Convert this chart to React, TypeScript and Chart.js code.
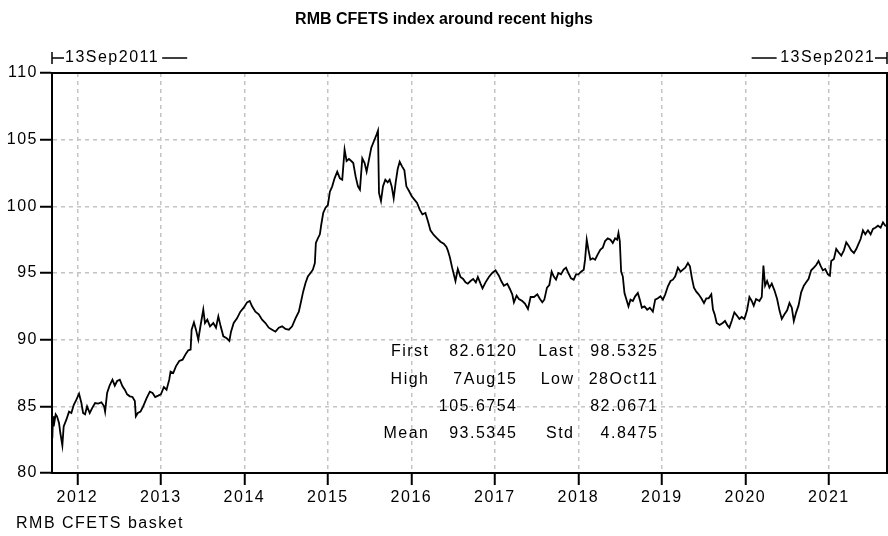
import React, { useEffect, useRef } from 'react';
import { Chart, registerables } from 'chart.js';

Chart.register(...registerables);

// ---- Data (decimal years, index values) ----
const dates: number[] = [
  2011.700, 2011.708, 2011.716, 2011.740, 2011.756, 2011.780, 2011.796, 2011.820, 2011.836, 2011.868,
  2011.900, 2011.928, 2011.956, 2011.988, 2012.020, 2012.048, 2012.068, 2012.092, 2012.116, 2012.148,
  2012.180, 2012.212, 2012.248, 2012.288, 2012.320, 2012.332, 2012.356, 2012.388, 2012.420, 2012.448,
  2012.476, 2012.508, 2012.540, 2012.568, 2012.596, 2012.628, 2012.660, 2012.688, 2012.700, 2012.724,
  2012.756, 2012.788, 2012.828, 2012.868, 2012.900, 2012.932, 2012.968, 2013.000, 2013.036, 2013.068,
  2013.100, 2013.116, 2013.148, 2013.180, 2013.220, 2013.260, 2013.300, 2013.328, 2013.356, 2013.368,
  2013.396, 2013.420, 2013.448, 2013.476, 2013.508, 2013.528, 2013.556, 2013.588, 2013.628, 2013.660,
  2013.688, 2013.716, 2013.748, 2013.788, 2013.820, 2013.840, 2013.872, 2013.912, 2013.952, 2013.992,
  2014.032, 2014.064, 2014.092, 2014.132, 2014.172, 2014.212, 2014.252, 2014.292, 2014.332, 2014.372,
  2014.412, 2014.452, 2014.492, 2014.532, 2014.572, 2014.612, 2014.652, 2014.680, 2014.704, 2014.732,
  2014.760, 2014.792, 2014.820, 2014.844, 2014.856, 2014.880, 2014.904, 2014.920, 2014.944, 2014.972,
  2015.000, 2015.024, 2015.052, 2015.080, 2015.112, 2015.144, 2015.172, 2015.200, 2015.224, 2015.252,
  2015.280, 2015.304, 2015.332, 2015.360, 2015.384, 2015.412, 2015.440, 2015.464, 2015.492, 2015.520,
  2015.552, 2015.584, 2015.600, 2015.612, 2015.636, 2015.660, 2015.688, 2015.716, 2015.740, 2015.764,
  2015.788, 2015.812, 2015.836, 2015.860, 2015.888, 2015.916, 2015.940, 2015.972, 2016.004, 2016.036,
  2016.068, 2016.100, 2016.132, 2016.168, 2016.200, 2016.228, 2016.268, 2016.308, 2016.348, 2016.388,
  2016.420, 2016.436, 2016.460, 2016.488, 2016.508, 2016.528, 2016.556, 2016.588, 2016.620, 2016.648,
  2016.676, 2016.708, 2016.740, 2016.772, 2016.796, 2016.828, 2016.852, 2016.888, 2016.928, 2016.968,
  2017.008, 2017.048, 2017.076, 2017.108, 2017.148, 2017.180, 2017.208, 2017.228, 2017.260, 2017.288,
  2017.328, 2017.360, 2017.396, 2017.428, 2017.468, 2017.508, 2017.540, 2017.568, 2017.592, 2017.624,
  2017.652, 2017.680, 2017.704, 2017.732, 2017.760, 2017.792, 2017.824, 2017.852, 2017.880, 2017.912,
  2017.944, 2017.972, 2018.000, 2018.032, 2018.064, 2018.080, 2018.100, 2018.120, 2018.144, 2018.172,
  2018.200, 2018.232, 2018.264, 2018.292, 2018.320, 2018.352, 2018.384, 2018.412, 2018.440, 2018.464,
  2018.480, 2018.496, 2018.512, 2018.532, 2018.552, 2018.576, 2018.600, 2018.624, 2018.652, 2018.680,
  2018.712, 2018.736, 2018.760, 2018.792, 2018.824, 2018.856, 2018.892, 2018.920, 2018.952, 2018.984,
  2019.012, 2019.040, 2019.072, 2019.104, 2019.132, 2019.160, 2019.192, 2019.224, 2019.252, 2019.280,
  2019.312, 2019.336, 2019.360, 2019.384, 2019.412, 2019.440, 2019.472, 2019.504, 2019.532, 2019.560,
  2019.592, 2019.612, 2019.632, 2019.656, 2019.692, 2019.728, 2019.756, 2019.788, 2019.808, 2019.836,
  2019.868, 2019.900, 2019.928, 2019.956, 2019.988, 2020.020, 2020.048, 2020.076, 2020.100, 2020.128,
  2020.168, 2020.196, 2020.216, 2020.236, 2020.260, 2020.288, 2020.316, 2020.348, 2020.380, 2020.408,
  2020.436, 2020.468, 2020.500, 2020.528, 2020.556, 2020.580, 2020.608, 2020.636, 2020.668, 2020.700,
  2020.728, 2020.756, 2020.788, 2020.820, 2020.848, 2020.876, 2020.900, 2020.928, 2020.956, 2020.988,
  2021.012, 2021.028, 2021.060, 2021.088, 2021.116, 2021.148, 2021.180, 2021.208, 2021.236, 2021.268,
  2021.300, 2021.328, 2021.356, 2021.380, 2021.408, 2021.436, 2021.468, 2021.500, 2021.528, 2021.556,
  2021.588, 2021.620, 2021.648, 2021.676, 2021.696,
];

const values: number[] = [
  82.61, 84.25, 83.5, 84.4, 84.25, 83.75, 83.0, 82.07, 83.5, 84.0,
  84.6, 84.5, 85.1, 85.5, 85.95, 85.25, 84.5, 84.4, 85.0, 84.5,
  84.9, 85.25, 85.2, 85.3, 85.0, 84.6, 86.0, 86.6, 87.0, 86.55,
  86.9, 87.0, 86.5, 86.25, 85.9, 85.75, 85.7, 85.4, 84.25, 84.5,
  84.6, 85.0, 85.6, 86.1, 86.0, 85.7, 85.8, 85.9, 86.45, 86.25,
  87.0, 87.6, 87.5, 88.0, 88.4, 88.5, 88.95, 89.2, 89.25, 90.75,
  91.3, 90.75, 90.0, 91.1, 92.25, 91.25, 91.5, 91.0, 91.25, 90.9,
  91.75, 91.0, 90.25, 90.1, 89.9, 90.6, 91.25, 91.6, 92.1, 92.4,
  92.8, 92.9, 92.5, 92.1, 91.9, 91.5, 91.25, 90.9, 90.75, 90.6,
  90.9, 91.0, 90.8, 90.75, 91.0, 91.6, 92.1, 92.9, 93.6, 94.25,
  94.75, 95.0, 95.25, 95.75, 97.25, 97.6, 97.9, 98.6, 99.5, 99.9,
  100.1, 101.1, 101.5, 102.1, 102.6, 102.1, 102.0, 104.25, 103.4, 103.55,
  103.4, 103.25, 102.25, 101.5, 101.25, 103.6, 103.25, 102.6, 103.5, 104.4,
  104.9, 105.4, 105.68, 101.0, 100.4, 101.5, 102.0, 101.8, 102.0, 101.5,
  100.6, 101.8, 102.8, 103.35, 103.0, 102.7, 101.5, 101.15, 100.75, 100.5,
  100.25, 99.75, 99.4, 99.5, 98.85, 98.2, 97.85, 97.6, 97.35, 97.2,
  96.95, 96.7, 96.2, 95.4, 94.9, 94.4, 95.3, 94.7, 94.55, 94.3,
  94.2, 94.4, 94.55, 94.3, 94.7, 94.2, 93.85, 94.3, 94.7, 95.0,
  95.2, 94.8, 94.4, 94.05, 94.2, 93.8, 93.4, 92.8, 93.3, 93.05,
  92.9, 92.7, 92.3, 93.2, 93.2, 93.4, 93.05, 92.8, 93.0, 93.9,
  94.1, 95.1, 94.75, 94.5, 95.0, 94.9, 95.25, 95.4, 95.0, 94.6,
  94.5, 94.9, 94.9, 95.1, 95.25, 96.0, 97.5, 96.75, 96.0, 96.1,
  96.0, 96.4, 96.75, 96.9, 97.4, 97.6, 97.5, 97.25, 97.6, 97.5,
  98.0, 97.4, 95.1, 94.75, 93.5, 93.0, 92.5, 93.0, 92.9, 93.25,
  93.5, 93.0, 92.4, 92.5, 92.25, 92.4, 92.1, 93.0, 93.1, 93.25,
  93.0, 93.4, 94.0, 94.4, 94.5, 94.75, 95.4, 95.1, 95.25, 95.4,
  95.75, 95.5, 94.6, 93.9, 93.6, 93.4, 93.1, 92.75, 93.1, 93.1,
  93.4, 92.25, 91.9, 91.25, 91.1, 91.25, 91.4, 91.05, 90.9, 91.4,
  92.05, 91.8, 91.55, 91.7, 91.55, 92.2, 93.2, 92.9, 92.55, 93.05,
  92.9, 93.2, 95.55, 94.05, 94.4, 93.9, 94.2, 93.7, 93.05, 92.2,
  91.55, 91.9, 92.2, 92.75, 92.4, 91.4, 92.05, 92.55, 93.55, 94.05,
  94.3, 94.55, 95.2, 95.4, 95.6, 95.9, 95.55, 95.2, 95.3, 94.9,
  94.8, 95.9, 96.05, 96.8, 96.55, 96.3, 96.7, 97.3, 97.05, 96.7,
  96.5, 96.8, 97.2, 97.55, 98.2, 97.9, 98.2, 97.9, 98.3, 98.4,
  98.55, 98.4, 98.8, 98.55, 98.53,
];

const xTickYears: number[] = [2012, 2013, 2014, 2015, 2016, 2017, 2018, 2019, 2020, 2021];
const yTickValues: number[] = [80, 85, 90, 95, 100, 105, 110];
const xMin = 2011.696;
const xMax = 2021.696;
const yMin = 80;
const yMax = 110;

const chartTitle = 'RMB CFETS index around recent highs';
const seriesName = 'RMB CFETS basket';
const startLabel = '13Sep2011';
const endLabel = '13Sep2021';

const statLabelsLeft: string[] = ['First', 'High', '', 'Mean'];
const statValuesLeft: string[] = ['82.6120', '7Aug15', '105.6754', '93.5345'];
const statLabelsRight: string[] = ['Last', 'Low', '', 'Std'];
const statValuesRight: string[] = ['98.5325', '28Oct11', '82.0671', '4.8475'];

const FONT = '"Liberation Sans", Arial, sans-serif';
const TEXT_COLOR = '#000000';

const overlayPlugin = {
  id: 'overlay',
  beforeDraw(chart: any) {
    const ctx = chart.ctx;
    ctx.fillStyle = '#ffffff';
    ctx.fillRect(0, 0, chart.width, chart.height);
    (ctx as any).letterSpacing = '1.5px';
  },
  afterDraw(chart: any) {
    const ctx = chart.ctx;
    const { left, right, top, bottom } = chart.chartArea;
    ctx.save();
    // plot frame
    ctx.strokeStyle = '#000';
    ctx.lineWidth = 2;
    ctx.strokeRect(left, top, right - left, bottom - top);

    // title
    (ctx as any).letterSpacing = '0px';
    ctx.fillStyle = '#000';
    ctx.font = `bold 16px ${FONT}`;
    ctx.textAlign = 'center';
    ctx.textBaseline = 'middle';
    ctx.fillText(chartTitle, 444, 20);

    // date range markers
    (ctx as any).letterSpacing = '1.5px';
    ctx.font = `16px ${FONT}`;
    ctx.fillStyle = TEXT_COLOR;
    ctx.strokeStyle = '#000';
    ctx.lineWidth = 1.5;
    const my = 58;
    const wS = ctx.measureText(startLabel).width;
    ctx.beginPath();
    ctx.moveTo(left, my - 6); ctx.lineTo(left, my + 6);
    ctx.moveTo(left, my); ctx.lineTo(left + 12, my);
    ctx.moveTo(left + 14 + wS + 2, my); ctx.lineTo(left + 14 + wS + 27, my);
    ctx.stroke();
    ctx.textAlign = 'left';
    ctx.fillText(startLabel, left + 13, my);

    const wE = ctx.measureText(endLabel).width;
    const ex = right - 13;
    ctx.beginPath();
    ctx.moveTo(right, my - 6); ctx.lineTo(right, my + 6);
    ctx.moveTo(right, my); ctx.lineTo(right - 12, my);
    ctx.moveTo(ex - wE - 2, my); ctx.lineTo(ex - wE - 27, my);
    ctx.stroke();
    ctx.textAlign = 'right';
    ctx.fillText(endLabel, ex + 1.5, my);

    // stats block
    const cols = [428, 516, 573, 657];
    const rows = [352, 379.5, 407, 434];
    ctx.textAlign = 'right';
    for (let i = 0; i < rows.length; i++) {
      const texts = [statLabelsLeft[i], statValuesLeft[i], statLabelsRight[i], statValuesRight[i]];
      texts.forEach((t, j) => {
        if (t) ctx.fillText(t, cols[j] + 1.5, rows[i]);
      });
    }

    // series name
    ctx.textAlign = 'left';
    ctx.fillText(seriesName, 16, 524);
    ctx.restore();
    (ctx as any).letterSpacing = '0px';
  },
};

export default function App() {
  const canvasRef = useRef<HTMLCanvasElement | null>(null);

  useEffect(() => {
    if (!canvasRef.current) return;
    const points = dates.map((d, i) => ({ x: d, y: values[i] }));
    const chart = new Chart(canvasRef.current, {
      type: 'line',
      data: {
        datasets: [
          {
            label: seriesName,
            data: points,
            borderColor: '#000',
            borderWidth: 1.8,
            pointRadius: 0,
            tension: 0,
            fill: false,
          },
        ],
      },
      options: {
        animation: false,
        responsive: false,
        devicePixelRatio: 1,
        layout: { padding: { top: 73, left: 0, right: 1, bottom: 0 } },
        plugins: {
          legend: { display: false },
          title: { display: false },
          tooltip: { enabled: false },
        },
        scales: {
          x: {
            type: 'linear',
            min: xMin,
            max: xMax,
            afterBuildTicks: (scale: any) => {
              scale.ticks = xTickYears.map((v) => ({ value: v }));
            },
            afterFit: (scale: any) => {
              scale.height = 63;
            },
            ticks: {
              autoSkip: false,
              maxRotation: 0,
              padding: 3,
              color: TEXT_COLOR,
              font: { family: FONT, size: 16 },
              callback: (v: any) => String(v),
            },
            grid: {
              color: '#c4c4c4',
              lineWidth: 1.5,
              tickLength: 12,
              tickColor: '#000',
              tickWidth: 2,
            },
            border: { color: '#000', width: 2, dash: [4, 4] },
          },
          y: {
            type: 'linear',
            min: yMin,
            max: yMax,
            afterBuildTicks: (scale: any) => {
              scale.ticks = yTickValues.map((v) => ({ value: v }));
            },
            afterFit: (scale: any) => {
              scale.width = 52;
            },
            ticks: {
              padding: 2,
              color: TEXT_COLOR,
              font: { family: FONT, size: 16 },
              callback: (v: any) => String(v),
            },
            grid: {
              color: '#c4c4c4',
              lineWidth: 1.5,
              tickLength: 12,
              tickColor: '#000',
              tickWidth: 2,
            },
            border: { color: '#000', width: 2, dash: [4, 4] },
          },
        },
      },
      plugins: [overlayPlugin],
    });
    return () => chart.destroy();
  }, []);

  return (
    <div style={{ position: 'absolute', left: 0, top: 0, width: 888, height: 536, background: '#fff' }}>
      <canvas ref={canvasRef} width={888} height={536} style={{ display: 'block' }} />
    </div>
  );
}
